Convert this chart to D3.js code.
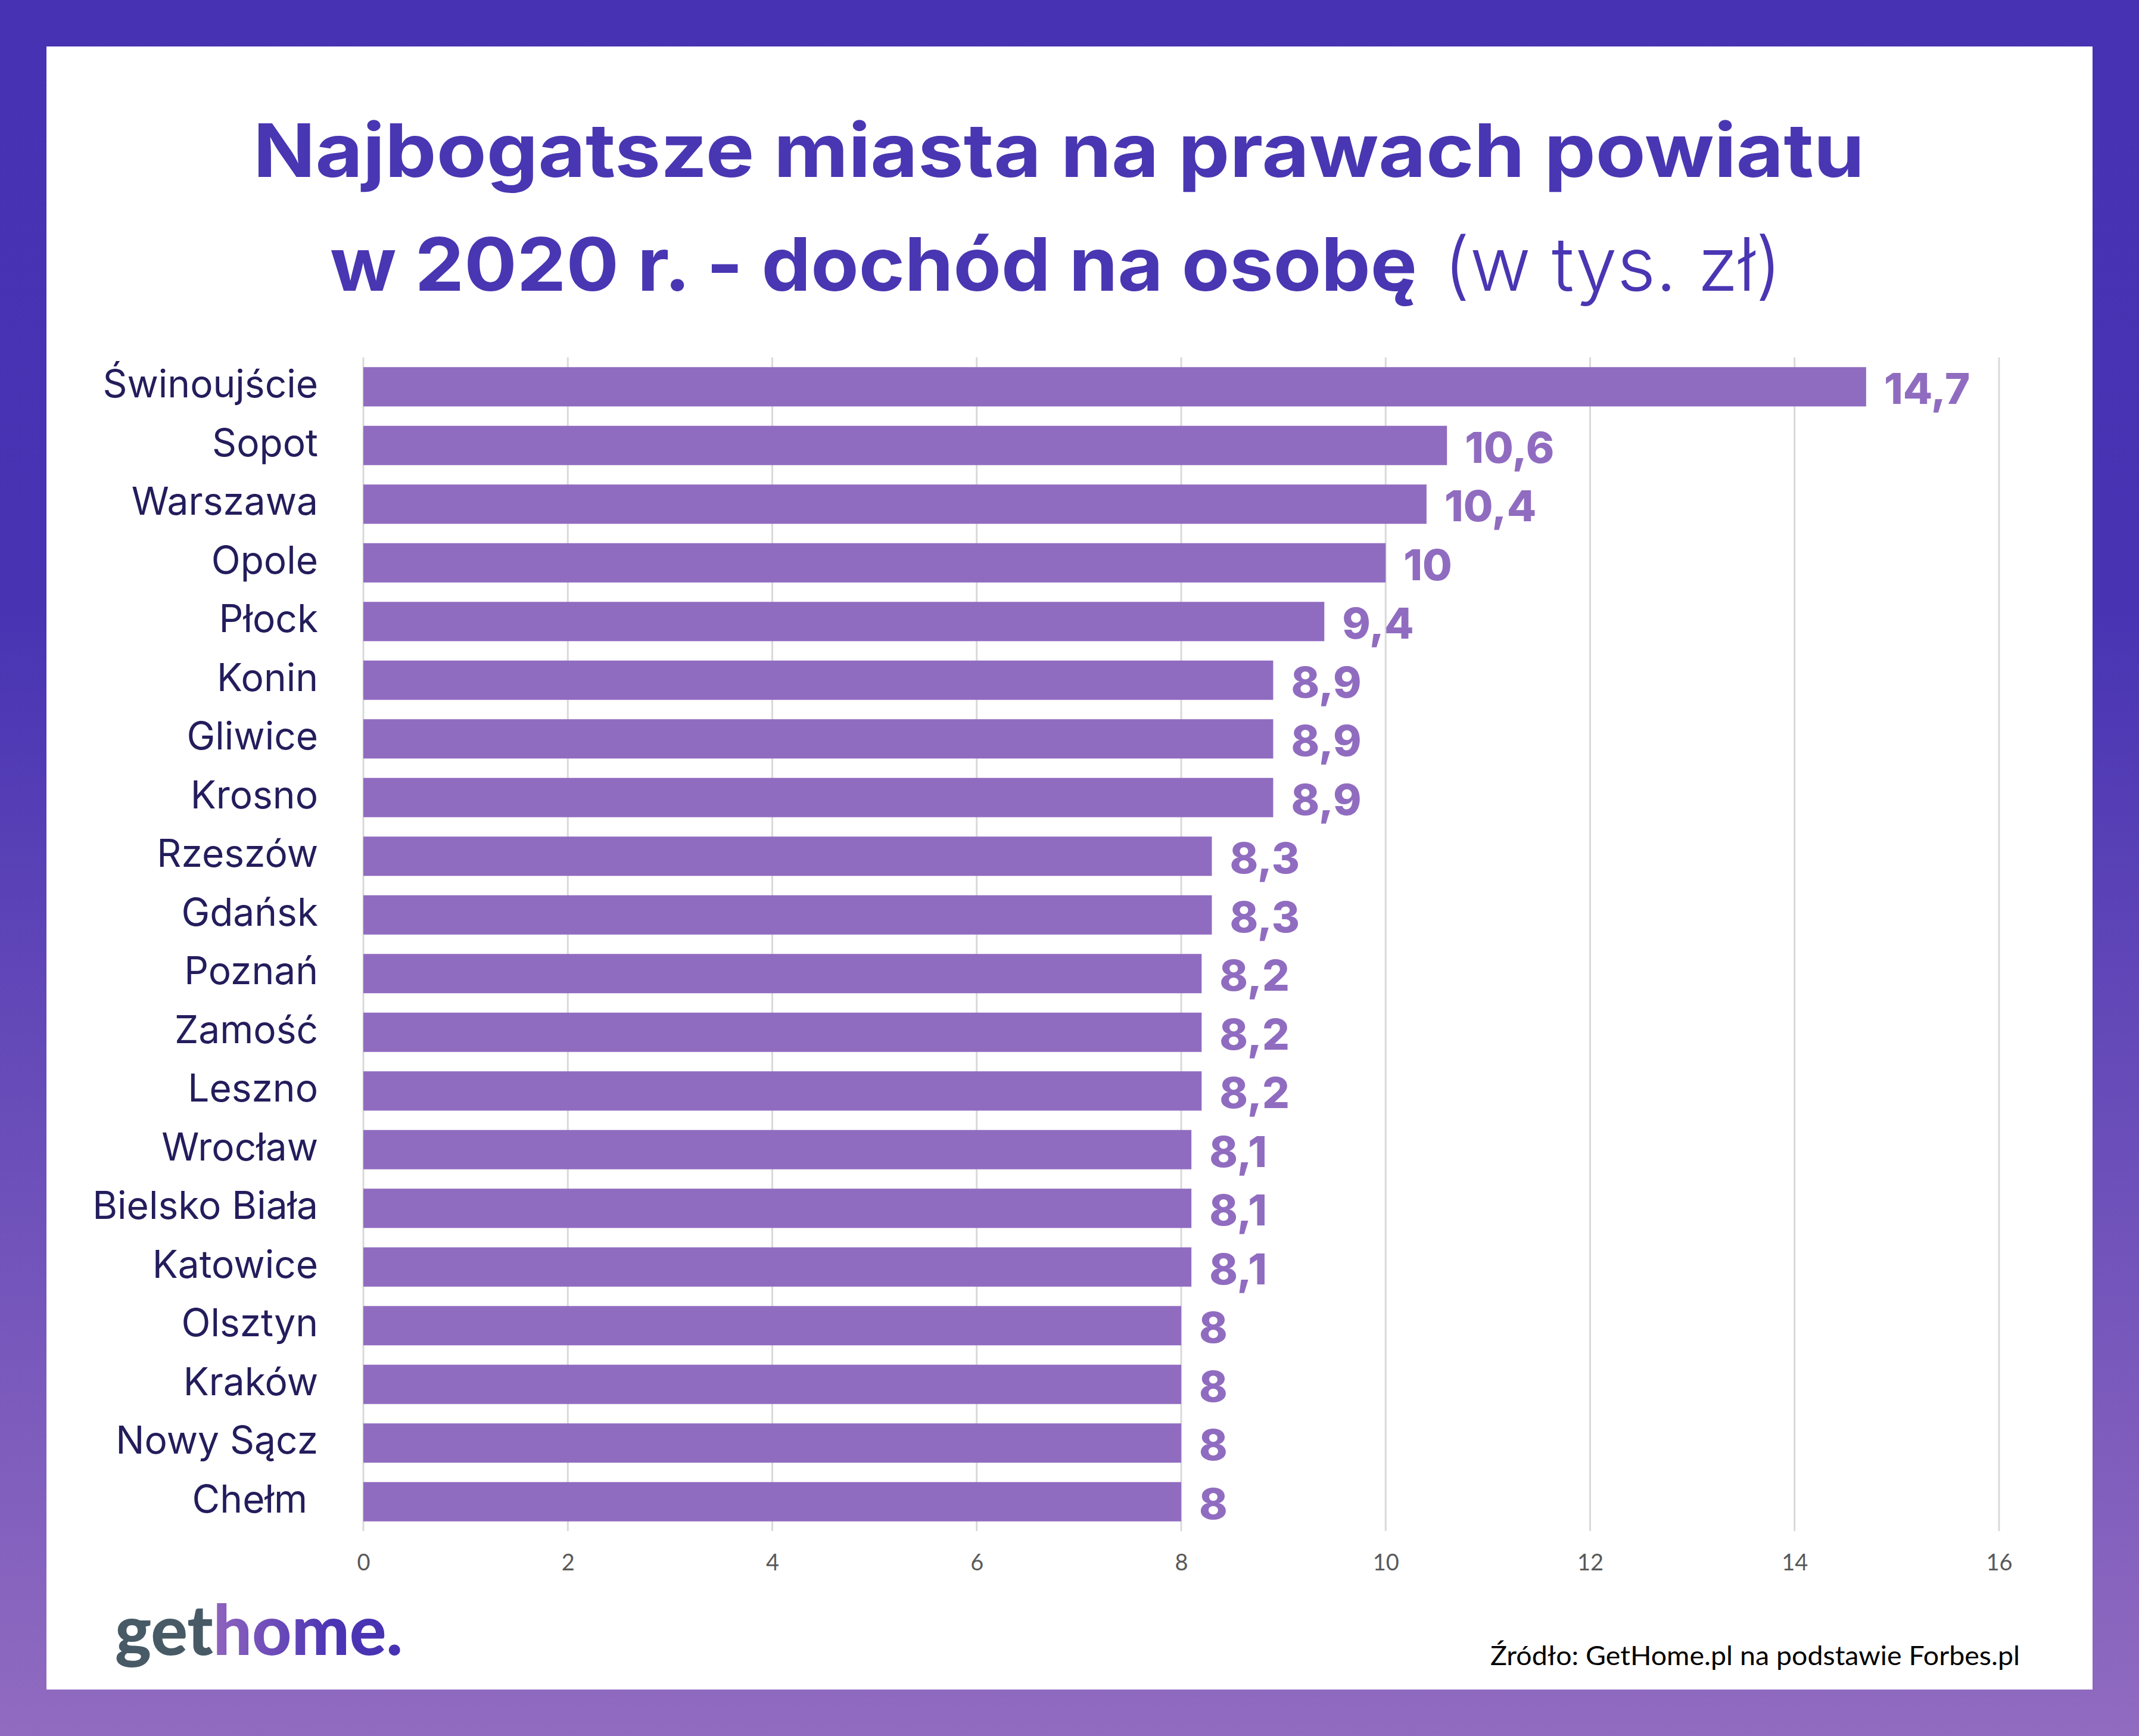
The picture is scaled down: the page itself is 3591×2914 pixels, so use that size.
<!DOCTYPE html>
<html><head><meta charset="utf-8">
<script src="https://cdn.jsdelivr.net/npm/d3@7"></script>
<style>body{margin:0;background:#fff}</style>
</head><body>
<svg id="c" width="3591" height="2914" xmlns="http://www.w3.org/2000/svg"></svg>
<script>
const cities = ["Świnoujście","Sopot","Warszawa","Opole","Płock","Konin","Gliwice","Krosno","Rzeszów","Gdańsk","Poznań","Zamość","Leszno","Wrocław","Bielsko Biała","Katowice","Olsztyn","Kraków","Nowy Sącz","Chełm "];
const values = [14.7,10.6,10.4,10,9.4,8.9,8.9,8.9,8.3,8.3,8.2,8.2,8.2,8.1,8.1,8.1,8,8,8,8];
const tickValues = [0,2,4,6,8,10,12,14,16];
const titleLine1 = "Najbogatsze miasta na prawach powiatu";
const titleLine2Bold = "w 2020 r. - dochód na osobę";
const titleLine2Light = "(w tys. zł)";
const sourceText = "Źródło: GetHome.pl na podstawie Forbes.pl";

const W = 3591, H = 2914;
const svg = d3.select("#c");
const defs = svg.append("defs");

const bg = defs.append("linearGradient").attr("id","bg").attr("x1",0).attr("y1",0).attr("x2",0).attr("y2",1);
bg.append("stop").attr("offset","0").attr("stop-color","#4632b2");
bg.append("stop").attr("offset","0.35").attr("stop-color","#4834b3");
bg.append("stop").attr("offset","1").attr("stop-color","#916bc0");

const lg = defs.append("linearGradient").attr("id","logo").attr("x1",0).attr("y1",0).attr("x2",1).attr("y2",0);
lg.append("stop").attr("offset","0").attr("stop-color","#9266bf");
lg.append("stop").attr("offset","0.35").attr("stop-color","#8e63be");
lg.append("stop").attr("offset","0.75").attr("stop-color","#4c35b4");
lg.append("stop").attr("offset","1").attr("stop-color","#4632b3");

svg.append("rect").attr("width",W).attr("height",H).attr("fill","url(#bg)");
svg.append("rect").attr("x",78).attr("y",78).attr("width",3513-78).attr("height",2836-78).attr("fill","#ffffff");

// Title
const titleColor = "#4936b2";
svg.append("text").attr("x",425).attr("y",297)
  .attr("font-family","Inter, 'Open Sans', sans-serif").attr("font-weight",700).attr("font-size",124)
  .attr("fill",titleColor).attr("textLength",2705).attr("lengthAdjust","spacingAndGlyphs")
  .text(titleLine1);
svg.append("text").attr("x",554).attr("y",488)
  .attr("font-family","Inter, 'Open Sans', sans-serif").attr("font-weight",700).attr("font-size",124)
  .attr("fill",titleColor).attr("textLength",1825).attr("lengthAdjust","spacingAndGlyphs")
  .text(titleLine2Bold);
svg.append("text").attr("x",2424).attr("y",488)
  .attr("font-family","Inter, 'Open Sans', sans-serif").attr("font-weight",300).attr("font-size",124)
  .attr("fill",titleColor).attr("textLength",567).attr("lengthAdjust","spacingAndGlyphs")
  .text(titleLine2Light);

// Scales
const x = d3.scaleLinear().domain([0,16]).range([610,3356]);
const y = d3.scaleBand().domain(cities).range([600,2570]).paddingInner(0.33).paddingOuter(0.165);

// Grid
svg.append("g").selectAll("line").data(tickValues).join("line")
  .attr("x1",d=>x(d)).attr("x2",d=>x(d)).attr("y1",600).attr("y2",2570)
  .attr("stroke","#d9d9d9").attr("stroke-width",3);

// Axis labels
const axis = d3.axisBottom(x).tickValues(tickValues).tickSize(0).tickPadding(0).tickFormat(d3.format("d"));
const ag = svg.append("g").attr("transform","translate(0,2600)").call(axis);
ag.select(".domain").remove();
ag.selectAll("text").attr("font-family","Lato, 'Open Sans', sans-serif").attr("font-size",38)
  .attr("fill","#595959").attr("dy","0.95em");

// Bars
const barColor = "#906cc0";
svg.append("g").selectAll("rect").data(values).join("rect")
  .attr("x",x(0)).attr("y",(d,i)=>y(cities[i]))
  .attr("width",d=>x(d)-x(0)).attr("height",y.bandwidth())
  .attr("fill",barColor);

// Value labels
const vfs = 72;
svg.append("g").selectAll("text").data(values).join("text")
  .attr("x",d=>x(d)+30).attr("y",(d,i)=>y(cities[i])+y.bandwidth()/2+29)
  .attr("font-family","Inter, 'Open Sans', sans-serif").attr("font-weight",800).attr("font-size",vfs)
  .attr("fill","#906cc0")
  .text(d=>String(d).replace(".",","));

// City labels
svg.append("g").selectAll("text").data(cities).join("text")
  .attr("x",534).attr("y",d=>y(d)+y.bandwidth()/2+18)
  .attr("text-anchor","end").style("white-space","pre")
  .attr("font-family","Inter, 'Open Sans', sans-serif").attr("font-weight",400).attr("font-size",64)
  .attr("fill","#231d5c")
  .text(d=>d);

// Logo
const logo = svg.append("text").attr("x",193).attr("y",2778)
  .attr("font-family","Lato, 'Open Sans', sans-serif").attr("font-weight",900).attr("font-size",116)
  .attr("textLength",483).attr("lengthAdjust","spacingAndGlyphs");
logo.append("tspan").attr("fill","#475a66").text("get");
logo.append("tspan").attr("fill","url(#logo)").text("home.");

// Source
svg.append("text").attr("x",2502).attr("y",2795)
  .attr("font-family","Lato, 'Open Sans', sans-serif").attr("font-size",44).attr("fill","#000000")
  .attr("textLength",889).attr("lengthAdjust","spacingAndGlyphs")
  .text(sourceText);
</script>
</body></html>
